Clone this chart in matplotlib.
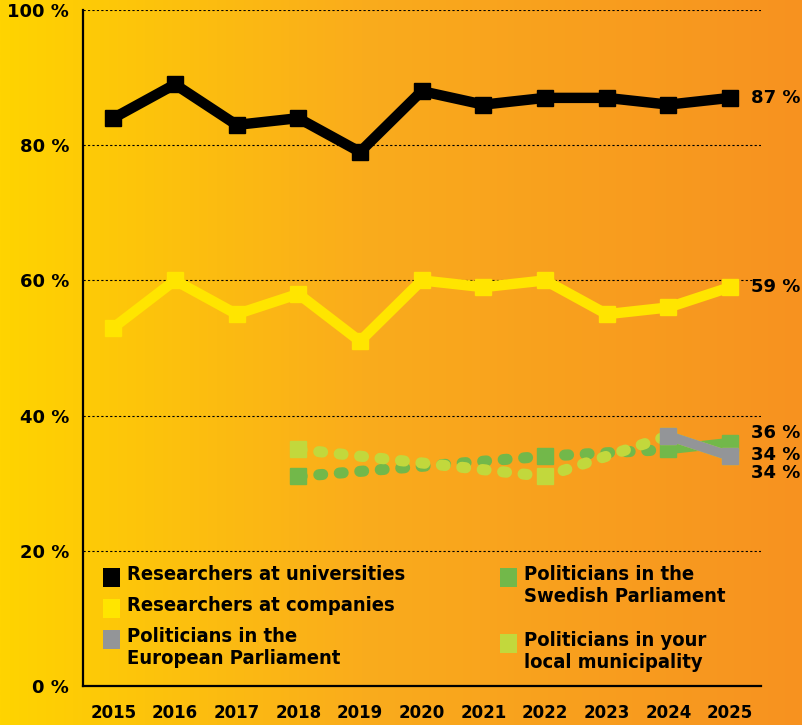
import matplotlib.pyplot as plt
import numpy as np
from matplotlib.patches import Rectangle

years = [2015, 2016, 2017, 2018, 2019, 2020, 2021, 2022, 2023, 2024, 2025]
nan = np.nan

uni = [84, 89, 83, 84, 79, 88, 86, 87, 87, 86, 87]
companies = [53, 60, 55, 58, 51, 60, 59, 60, 55, 56, 59]
eu_parl = [nan, nan, nan, nan, nan, nan, nan, nan, nan, 37, 34]
swe_parl = [nan, nan, nan, 31, nan, nan, nan, 34, nan, 35, 36]
local = [nan, nan, nan, 35, nan, nan, nan, 31, nan, 37, 34]

c_black = "#000000"
c_yellow = "#FFE500"
c_gray = "#939598"
c_green = "#72B84A"
c_lgreen = "#C2D83C"

W, H = 803, 725
fig = plt.figure(figsize=(W / 100, H / 100), dpi=100)

# background gradient yellow -> orange
bg = fig.add_axes([0, 0, 1, 1], zorder=-10)
t = np.linspace(0, 1, 400)
stops_x = [0.0, 0.45, 1.0]
stops_c = np.array([[255, 212, 0], [250, 172, 28], [247, 146, 32]]) / 255
grad = np.stack([np.interp(t, stops_x, stops_c[:, i]) for i in range(3)], axis=-1)
bg.imshow(grad[np.newaxis, :, :], aspect="auto", extent=[0, 1, 0, 1])
bg.axis("off")

ax = fig.add_axes([83 / W, 1 - 686 / H, (761 - 83) / W, (686 - 10) / H])
ax.set_facecolor("none")
ax.set_xlim(2014.51, 2025.5)
ax.set_ylim(0, 100)

for v in [20, 40, 60, 80, 100]:
    ax.axhline(v, color="black", linestyle=(0, (2, 2)), linewidth=0.8, zorder=1)

ax.plot(years, uni, color=c_black, lw=7.5, marker="s", ms=12, solid_joinstyle="miter", zorder=5)
ax.plot(years, companies, color=c_yellow, lw=7.5, marker="s", ms=12, solid_joinstyle="miter", zorder=5)

# politician series: dotted across missing years, solid for the last step
x = np.array(years, dtype=float)
dot_style = (0, (0.35, 1.5))
for vals, col in [(swe_parl, c_green), (local, c_lgreen), (eu_parl, c_gray)]:
    v = np.array(vals, dtype=float)
    ok = ~np.isnan(v)
    xs, ys = x[ok], v[ok]
    if len(xs) > 2:
        ax.plot(xs[:-1], ys[:-1], color=col, lw=8, linestyle=dot_style,
                dash_capstyle="round", zorder=3)
    ax.plot(xs[-2:], ys[-2:], color=col, lw=7, zorder=4)
    ax.plot(xs, ys, color=col, lw=0, marker="s", ms=12, zorder=4)

# end labels
ends = [(uni[-1], 0), (companies[-1], 0), (swe_parl[-1], 7), (eu_parl[-1], 1), (local[-1], -12)]
for val, dy in ends:
    ax.annotate(f"{val:.0f} %", xy=(2025, val), xytext=(15, dy), textcoords="offset points",
                ha="left", va="center", fontsize=13, fontweight="bold", annotation_clip=False)

ax.set_xticks(years)
ax.set_xticklabels([str(y) for y in years])
ax.set_yticks([0, 20, 40, 60, 80, 100])
ax.set_yticklabels([f"{v} %" for v in [0, 20, 40, 60, 80, 100]])
ax.tick_params(length=0)
ax.tick_params(axis="x", pad=13, labelsize=12)
ax.tick_params(axis="y", pad=10, labelsize=13)
for lab in ax.get_xticklabels() + ax.get_yticklabels():
    lab.set_fontweight("bold")
for s in ["top", "right"]:
    ax.spines[s].set_visible(False)
for s in ["left", "bottom"]:
    ax.spines[s].set_linewidth(1.6)

# legend drawn by hand
legend_labels = ["Researchers at universities", "Researchers at companies",
                 "Politicians in the\nEuropean Parliament",
                 "Politicians in the\nSwedish Parliament",
                 "Politicians in your\nlocal municipality"]
legend_colors = [c_black, c_yellow, c_gray, c_green, c_lgreen]
legend_pos = [(103, 568), (103, 599), (103, 630), (500, 568), (500, 634)]
for lab, col, (px, py) in zip(legend_labels, legend_colors, legend_pos):
    fig.patches.append(Rectangle((px / W, 1 - (py + 19) / H), 17 / W, 19 / H,
                                 transform=fig.transFigure, facecolor=col, edgecolor="none"))
    fig.text((px + 24) / W, 1 - (py - 3) / H, lab, ha="left", va="top", fontsize=14.5,
             fontweight="bold", family="DejaVu Sans", fontstretch="condensed", linespacing=1.2)

fig.savefig("out.png", dpi=100)
